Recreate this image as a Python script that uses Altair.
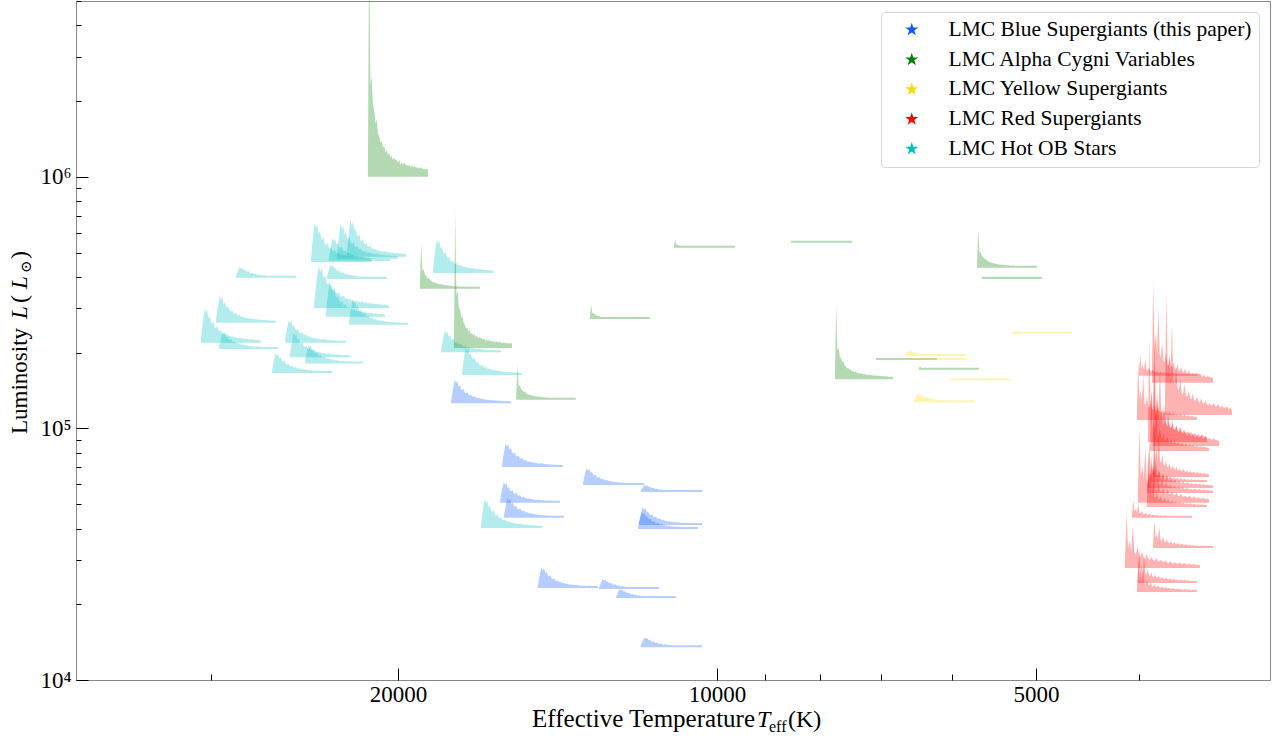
import math
import altair as alt
import pandas as pd

FONT = "Liberation Serif, Times New Roman, DejaVu Serif"

CLASSES = [
    "LMC Blue Supergiants (this paper)",
    "LMC Alpha Cygni Variables",
    "LMC Yellow Supergiants",
    "LMC Red Supergiants",
    "LMC Hot OB Stars",
]
COLORS = ["#0a5cff", "#008000", "#ffd700", "#ff0000", "#00bfbf"]

# Each periodogram glyph: (Teff at left edge, Teff at right edge, L baseline, L at highest peak)
BSG = [
    (17820, 15640, 1.26e5, 1.56e5),
    (15950, 13980, 7.03e4, 8.76e4),
    (13380, 11720, 5.96e4, 6.97e4),
    (11800, 10330, 5.59e4, 5.96e4),
    (16020, 14070, 5.06e4, 6.13e4),
    (15890, 13940, 4.41e4, 5.29e4),
    (11850, 10330, 4.13e4, 4.87e4),
    (11870, 10420, 3.98e4, 4.66e4),
    (14760, 12950, 2.32e4, 2.81e4),
    (12920, 11340, 2.30e4, 2.52e4),
    (12450, 10930, 2.12e4, 2.30e4),
    (11800, 10330, 1.35e4, 1.48e4),
]
ACV = [
    (21350, 18740, 1.00e6, 9.0e6),
    (19070, 16740, 3.59e5, 5.51e5),
    (17710, 15610, 2.09e5, 7.32e5),
    (15470, 13590, 1.30e5, 1.79e5),
    (13180, 11570, 2.72e5, 3.10e5),
    (10980, 9617, 5.22e5, 5.62e5),
    (8515, 7459, 5.47e5, 5.57e5),
    (5684, 4990, 4.35e5, 6.21e5),
    (5623, 4936, 3.93e5, 3.97e5),
    (7739, 6822, 1.57e5, 3.13e5),
    (7079, 6200, 1.87e5, 1.91e5),
    (6449, 5659, 1.71e5, 1.76e5),
]
YSG = [
    (6647, 5833, 1.94e5, 2.03e5),
    (6618, 5808, 1.87e5, 1.91e5),
    (6028, 5279, 1.55e5, 1.57e5),
    (6519, 5721, 1.27e5, 1.38e5),
    (5268, 4624, 2.38e5, 2.44e5),
]
RSG = [
    (3998, 3501, 1.62e5, 1.96e5),
    (3886, 3403, 1.52e5, 3.82e5),
    (3778, 3266, 1.13e5, 3.46e5),
    (4015, 3524, 1.08e5, 1.87e5),
    (3920, 3448, 8.84e4, 2.29e5),
    (3877, 3359, 8.52e4, 2.25e5),
    (3902, 3433, 8.14e4, 1.42e5),
    (3877, 3433, 6.41e4, 1.08e5),
    (3902, 3448, 6.13e4, 7.85e4),
    (3920, 3403, 5.80e4, 9.00e4),
    (3929, 3403, 5.54e4, 8.21e4),
    (4007, 3433, 5.06e4, 1.00e5),
    (3929, 3448, 4.87e4, 6.84e4),
    (4059, 3563, 4.41e4, 5.20e4),
    (3877, 3403, 3.35e4, 4.33e4),
    (4121, 3501, 2.79e4, 4.61e4),
    (4015, 3524, 2.24e4, 3.00e4),
    (4007, 3524, 2.43e4, 3.35e4),
]
OB = [
    (16700, 14630, 4.02e4, 5.24e4),
    (17400, 15280, 1.63e5, 2.11e5),
    (18530, 16270, 4.15e5, 5.67e5),
    (18210, 15990, 2.01e5, 2.46e5),
    (28440, 24960, 3.97e5, 4.39e5),
    (29700, 26080, 2.63e5, 3.36e5),
    (30690, 26940, 2.19e5, 3.01e5),
    (29510, 25960, 2.07e5, 2.40e5),
    (25560, 22390, 2.19e5, 2.70e5),
    (25290, 22200, 1.92e5, 2.40e5),
    (24480, 21580, 1.81e5, 2.15e5),
    (26300, 23080, 1.66e5, 2.00e5),
    (24160, 21170, 4.59e5, 6.62e5),
    (23240, 20350, 4.63e5, 5.72e5),
    (22840, 20000, 4.72e5, 6.50e5),
    (22350, 19650, 4.81e5, 6.75e5),
    (23340, 20480, 3.93e5, 4.47e5),
    (24000, 20390, 3.01e5, 4.43e5),
    (23390, 20570, 2.78e5, 3.79e5),
    (22250, 19570, 2.58e5, 3.24e5),
]

# Periodogram profiles (relative height, left to right across a glyph)
BROAD = [0.10, 0.45, 0.75, 1.00, 0.85, 0.95, 0.70, 0.78, 0.60, 0.55, 0.62, 0.45, 0.42, 0.48,
         0.36, 0.33, 0.38, 0.28, 0.27, 0.30, 0.22, 0.24, 0.20, 0.22, 0.17, 0.19, 0.16, 0.17,
         0.14, 0.15, 0.13, 0.16, 0.12, 0.13, 0.11, 0.12, 0.10, 0.12, 0.09, 0.10, 0.09, 0.11,
         0.08, 0.09, 0.08, 0.09, 0.07, 0.08, 0.05]
SPIKE = [0.05, 1.00, 0.38, 0.42, 0.30, 0.28, 0.22, 0.24, 0.18, 0.17, 0.14, 0.15, 0.12, 0.13,
         0.10, 0.11, 0.09, 0.10, 0.08, 0.09, 0.07, 0.08, 0.07, 0.07, 0.06, 0.07, 0.05, 0.06,
         0.05, 0.06, 0.05, 0.05, 0.045, 0.05, 0.04, 0.05, 0.04, 0.045, 0.04, 0.04, 0.035, 0.04,
         0.035, 0.04, 0.03, 0.035, 0.03, 0.035, 0.03]
REDPROF = [0.10, 1.00, 0.35, 0.50, 0.30, 0.75, 0.28, 0.25, 0.40, 0.22, 0.20, 0.30, 0.18, 0.17,
           0.25, 0.16, 0.15, 0.20, 0.14, 0.13, 0.18, 0.12, 0.12, 0.15, 0.11, 0.10, 0.14, 0.10,
           0.09, 0.12, 0.09, 0.08, 0.10, 0.08, 0.08, 0.10, 0.07, 0.07, 0.09, 0.07, 0.06, 0.08,
           0.06, 0.06, 0.07, 0.06, 0.05, 0.06, 0.04]
FLOOR_DEX = 0.008

X_DOMAIN = [3007, 40260]
Y_DOMAIN = [1e4, 5e6]
X_MAJOR = [20000, 10000, 5000]
X_MINOR = [30000, 9000, 8000, 7000, 6000, 4000]
Y_MAJOR = [1e4, 1e5, 1e6]
Y_MINOR = [2e4, 3e4, 4e4, 5e4, 6e4, 7e4, 8e4, 9e4,
           2e5, 3e5, 4e5, 5e5, 6e5, 7e5, 8e5, 9e5,
           2e6, 3e6, 4e6, 5e6]

rows = []
gid = 0
for cls, table, prof in [(CLASSES[4], OB, BROAD), (CLASSES[0], BSG, BROAD),
                         (CLASSES[1], ACV, SPIKE), (CLASSES[2], YSG, BROAD),
                         (CLASSES[3], RSG, REDPROF)]:
    for t0, t1, lum, lpk in table:
        a0, a1 = math.log10(t0), math.log10(t1)
        b = math.log10(lum)
        h = math.log10(lpk) - b
        n = len(prof)
        for i, v in enumerate(prof):
            f = i / (n - 1)
            rows.append({
                "g": gid,
                "cls": cls,
                "T": 10 ** (a0 + f * (a1 - a0)),
                "base": lum,
                "top": 10 ** (b + max(v * h, FLOOR_DEX)),
            })
        gid += 1
df = pd.DataFrame(rows)

W, H = 1194, 679
xscale = alt.Scale(type="log", domain=X_DOMAIN, reverse=True, nice=False, zero=False)
yscale = alt.Scale(type="log", domain=Y_DOMAIN, nice=False, zero=False)

STAR = ("M0,-1L0.2245,-0.309L0.9511,-0.309L0.3633,0.118L0.5878,0.809L0,0.382"
        "L-0.5878,0.809L-0.3633,0.118L-0.9511,-0.309L-0.2245,-0.309Z")

x_label_axis = alt.Axis(orient="bottom", values=X_MAJOR, format="d", title=None, grid=False,
                        ticks=False, tickSize=0, labelPadding=3, labelFont=FONT,
                        labelFontSize=23, labelColor="black", labelFlush=False,
                        labelOverlap=False, domainColor="#888", domainWidth=1)
y_label_axis = alt.Axis(orient="left", values=Y_MAJOR, title=None, grid=False,
                        ticks=False, tickSize=0, labelPadding=5, labelFont=FONT,
                        labelFontSize=23, labelColor="black", labelFlush=False,
                        labelOverlap=False, domainColor="#888", domainWidth=1,
                        labelExpr="datum.value == 10000 ? '10\u2074' : datum.value == 100000 ? '10\u2075' : '10\u2076'")

area = alt.Chart(df).mark_area(opacity=0.3, clip=True, interpolate="linear").encode(
    x=alt.X("T:Q", scale=xscale, axis=x_label_axis),
    y=alt.Y("top:Q", scale=yscale, axis=y_label_axis, stack=None),
    y2="base:Q",
    detail="g:N",
    color=alt.Color("cls:N", scale=alt.Scale(domain=CLASSES, range=COLORS),
                    legend=alt.Legend(title=None, orient="top-right", offset=11,
                                      symbolType=STAR, symbolSize=190, symbolOpacity=1,
                                      symbolStrokeWidth=0, symbolOffset=13,
                                      labelOffset=26, labelFont=FONT, labelFontSize=21.5,
                                      labelColor="black", labelLimit=500, padding=7,
                                      rowPadding=6.8, strokeColor="#d6d6d6",
                                      fillColor="white", cornerRadius=4)),
)

tick_df = pd.DataFrame({"T": X_MAJOR, "L": Y_MAJOR})
x_tick_axis = alt.Axis(orient="top", offset=-H, values=X_MAJOR + X_MINOR, labels=False,
                       domain=False, title=None, grid=False, tickColor="black", tickWidth=1,
                       tickSize={"condition": {"test": "datum.value == 20000 || datum.value == 10000 || datum.value == 5000", "value": 12}, "value": 6})
y_tick_axis = alt.Axis(orient="right", offset=-W, values=Y_MAJOR + Y_MINOR, labels=False,
                       domain=False, title=None, grid=False, tickColor="black", tickWidth=1,
                       tickSize={"condition": {"test": "datum.value == 10000 || datum.value == 100000 || datum.value == 1000000", "value": 12}, "value": 5})
ticks = alt.Chart(tick_df).mark_point(opacity=0).encode(
    x=alt.X("T:Q", scale=xscale, axis=x_tick_axis),
    y=alt.Y("L:Q", scale=yscale, axis=y_tick_axis),
)


def txt(s, x, y, size, style="normal", angle=0, align="left"):
    return alt.Chart(alt.Data(values=[{}])).mark_text(
        text=s, font=FONT, fontSize=size, fontStyle=style, angle=angle, align=align,
        baseline="alphabetic", color="black"
    ).encode(x=alt.value(x), y=alt.value(y))


titles = [
    txt("Effective Temperature", 679, 726, 25, align="right"),
    txt("T", 681, 726, 24, style="italic"),
    txt("eff", 693, 731, 16),
    txt("(K)", 712, 726, 24),
    txt("Luminosity", -49, 433, 23, angle=270),
    txt("L", -49, 318, 23, style="italic", angle=270),
    txt("(", -49, 302, 24, angle=270),
    txt("L", -49, 288, 23, style="italic", angle=270),
    txt("\u2299", -45, 272, 15, angle=270),
    txt(")", -49, 258, 24, angle=270),
]

chart = alt.layer(area, ticks, *titles).resolve_axis(
    x="independent", y="independent"
).properties(
    width=W, height=H,
    autosize=alt.AutoSizeParams(type="none"),
    padding={"left": 76, "top": 1, "right": 7, "bottom": 61},
).configure_view(stroke="#888", strokeWidth=1).configure_axis(grid=False)

chart.save("out.html", embed_options={"renderer": "svg", "actions": False})
